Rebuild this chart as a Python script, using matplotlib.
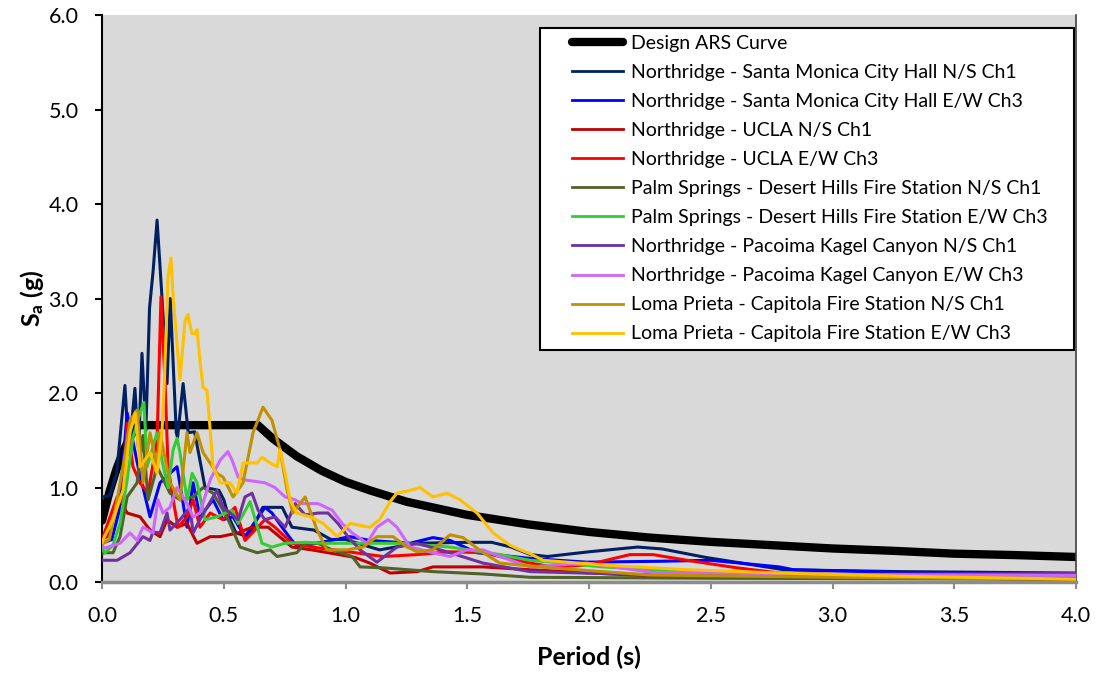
import matplotlib
matplotlib.use("Agg")
import matplotlib.pyplot as plt
from matplotlib.patches import Rectangle

plt.rcParams['font.family'] = ['Lato', 'DejaVu Sans']
plt.rcParams['mathtext.fontset'] = 'custom'
plt.rcParams['mathtext.rm'] = 'Lato'
plt.rcParams['mathtext.bf'] = 'Lato:bold'

# design ARS curve
design_T = [0, 0.03, 0.06, 0.09, 0.12, 0.15, 0.64, 0.7, 0.8, 0.9, 1.0, 1.1, 1.25, 1.5, 1.75,
            2.0, 2.25, 2.5, 2.75, 3.0, 3.25, 3.5, 3.75, 4.0]
design_sa = [0.65, 0.95, 1.2, 1.4, 1.56, 1.66, 1.66, 1.52, 1.33, 1.18, 1.06, 0.97, 0.85, 0.71, 0.61,
             0.53, 0.47, 0.425, 0.39, 0.355, 0.33, 0.30, 0.285, 0.265]

# Northridge - Santa Monica City Hall N/S Ch1
smns_T = [0, 0.03, 0.06, 0.094, 0.11, 0.135, 0.15, 0.164, 0.18, 0.195, 0.21, 0.226, 0.245, 0.267,
          0.28, 0.305, 0.31, 0.333, 0.354, 0.38, 0.423, 0.48, 0.50, 0.52, 0.55, 0.60, 0.66, 0.74,
          0.78, 0.87, 0.94, 1.0, 1.14, 1.29, 1.5, 1.6, 1.68, 1.76, 1.83, 2.0, 2.2, 2.3, 2.48, 2.8,
          3.28, 4.0]
smns_sa = [0.90, 0.91, 1.15, 2.08, 1.35, 2.05, 1.4, 2.42, 1.6, 2.9, 3.3, 3.83, 3.06, 2.1,
           3.0, 1.58, 1.53, 2.1, 1.58, 1.59, 1.0, 0.97, 0.87, 0.69, 0.52, 0.48, 0.79, 0.79,
           0.58, 0.55, 0.45, 0.45, 0.34, 0.41, 0.42, 0.42, 0.37, 0.29, 0.27, 0.32, 0.37, 0.35, 0.26, 0.13,
           0.11, 0.095]

# Northridge - Santa Monica City Hall E/W Ch3
smew_T = [0, 0.04, 0.07, 0.103, 0.148, 0.197, 0.238, 0.308, 0.349, 0.374, 0.402, 0.456, 0.497,
          0.538, 0.587, 0.669, 0.698, 0.739, 0.780, 0.805, 0.9, 1.018, 1.10, 1.265, 1.359, 1.429,
          1.54, 1.758, 1.99, 2.30, 2.50, 2.78, 2.84, 3.3, 4.0]
smew_sa = [0.41, 0.45, 0.75, 1.79, 1.22, 0.69, 1.05, 1.22, 0.58, 1.05, 0.69, 0.87, 0.66,
           0.69, 0.48, 0.79, 0.73, 0.58, 0.44, 0.37, 0.42, 0.48, 0.44, 0.41, 0.47, 0.44,
           0.31, 0.25, 0.21, 0.22, 0.23, 0.16, 0.13, 0.10, 0.074]

# Northridge - UCLA N/S Ch1
uclans_T = [0, 0.02, 0.074, 0.103, 0.156, 0.197, 0.238, 0.267, 0.308, 0.349, 0.39, 0.444, 0.485,
            0.559, 0.616, 0.682, 0.78, 0.862, 1.039, 1.1, 1.183, 1.294, 1.359, 1.565, 1.758, 2.2,
            2.6, 3.0, 4.0]
uclans_sa = [0.45, 0.48, 0.87, 0.73, 0.69, 0.55, 0.48, 0.66, 0.58, 0.62, 0.41, 0.48, 0.48,
             0.52, 0.58, 0.58, 0.37, 0.34, 0.26, 0.20, 0.095, 0.11, 0.16, 0.16, 0.13, 0.07,
             0.06, 0.05, 0.03]

# Northridge - UCLA E/W Ch3
uclaew_T = [0, 0.062, 0.086, 0.103, 0.127, 0.156, 0.189, 0.226, 0.242, 0.259, 0.271, 0.292, 0.312,
            0.349, 0.374, 0.402, 0.444, 0.497, 0.546, 0.587, 0.669, 0.71, 0.78, 0.862, 1.039, 1.154,
            1.294, 1.429, 1.565, 1.758, 1.852, 1.99, 2.168, 2.263, 2.402, 2.608, 2.784, 3.2, 4.0]
uclaew_sa = [0.45, 0.9, 0.83, 1.68, 1.22, 1.05, 0.94, 1.5, 3.02, 2.1, 1.22, 0.87, 0.58,
             0.69, 0.87, 0.58, 0.73, 0.66, 0.79, 0.44, 0.66, 0.58, 0.41, 0.37, 0.31, 0.27,
             0.29, 0.32, 0.31, 0.2, 0.16, 0.18, 0.29, 0.29, 0.23, 0.15, 0.095, 0.07, 0.05]

# Palm Springs - Desert Hills Fire Station N/S Ch1
psns_T = [0, 0.012, 0.045, 0.074, 0.103, 0.144, 0.168, 0.189, 0.226, 0.279, 0.32, 0.374, 0.415,
          0.456, 0.513, 0.567, 0.637, 0.69, 0.719, 0.80, 0.834, 0.887, 0.945, 1.027, 1.06, 1.154,
          1.359, 1.565, 1.758, 2.5, 4.0]
psns_sa = [0.30, 0.31, 0.31, 0.48, 0.9, 1.05, 1.55, 0.87, 1.22, 0.94, 0.87, 0.9, 1.0,
           0.94, 0.69, 0.37, 0.31, 0.34, 0.27, 0.31, 0.41, 0.41, 0.34, 0.27, 0.16, 0.15,
           0.11, 0.085, 0.05, 0.04, 0.03]

# Palm Springs - Desert Hills Fire Station E/W Ch3
psew_T = [0, 0.012, 0.045, 0.074, 0.103, 0.127, 0.156, 0.172, 0.185, 0.226, 0.246, 0.271, 0.292,
          0.308, 0.32, 0.349, 0.37, 0.39, 0.423, 0.472, 0.534, 0.559, 0.608, 0.657, 0.698, 0.752,
          0.834, 0.916, 1.039, 1.224, 1.429, 1.634, 1.758, 1.852, 2.057, 2.402, 3.0, 4.0]
psew_sa = [0.35, 0.31, 0.39, 0.62, 1.08, 1.53, 1.79, 1.9, 1.22, 1.58, 1.29, 1.0, 1.4,
           1.52, 1.37, 0.87, 1.15, 1.05, 0.66, 0.69, 0.76, 0.62, 0.85, 0.41, 0.37, 0.41,
           0.42, 0.41, 0.41, 0.41, 0.37, 0.29, 0.23, 0.21, 0.16, 0.11, 0.08, 0.07]

# Northridge - Pacoima Kagel Canyon N/S Ch1
pkns_T = [0, 0.062, 0.115, 0.168, 0.197, 0.209, 0.238, 0.267, 0.279, 0.32, 0.361, 0.374, 0.402,
          0.431, 0.472, 0.497, 0.559, 0.587, 0.616, 0.641, 0.669, 0.71, 0.752, 0.793, 0.834, 0.887,
          0.928, 0.969, 1.01, 1.06, 1.129, 1.211, 1.294, 1.429, 1.565, 1.758, 2.2, 3.0, 4.0]
pkns_sa = [0.23, 0.23, 0.31, 0.48, 0.44, 0.53, 0.52, 0.73, 0.55, 0.66, 0.79, 0.52, 0.66,
           0.79, 0.97, 0.79, 0.66, 0.90, 0.94, 0.76, 0.66, 0.69, 0.58, 0.83, 0.71, 0.73,
           0.73, 0.62, 0.48, 0.34, 0.21, 0.37, 0.41, 0.31, 0.2, 0.11, 0.08, 0.08, 0.09]

# Northridge - Pacoima Kagel Canyon E/W Ch3
pkew_T = [0, 0.012, 0.074, 0.115, 0.144, 0.168, 0.209, 0.23, 0.25, 0.279, 0.308, 0.349, 0.374,
          0.402, 0.444, 0.485, 0.517, 0.534, 0.559, 0.587, 0.669, 0.71, 0.752, 0.793, 0.821, 0.887,
          0.945, 0.986, 1.027, 1.088, 1.129, 1.175, 1.211, 1.265, 1.359, 1.429, 1.499, 1.565, 1.634,
          1.758, 1.99, 2.263, 3.0, 4.0]
pkew_sa = [0.38, 0.36, 0.41, 0.52, 0.44, 0.58, 0.52, 0.87, 0.73, 0.79, 1.0, 0.83, 0.69,
           0.73, 1.08, 1.29, 1.38, 1.29, 1.11, 1.08, 1.05, 1.0, 0.9, 0.87, 0.83, 0.83,
           0.76, 0.62, 0.52, 0.41, 0.58, 0.66, 0.58, 0.37, 0.31, 0.27, 0.34, 0.34, 0.27,
           0.16, 0.2, 0.1, 0.08, 0.07]

# Loma Prieta - Capitola Fire Station N/S Ch1
lpns_T = [0, 0.03, 0.062, 0.086, 0.115, 0.144, 0.168, 0.197, 0.226, 0.238, 0.279, 0.32, 0.349,
          0.361, 0.39, 0.415, 0.472, 0.497, 0.538, 0.579, 0.62, 0.661, 0.698, 0.731, 0.76, 0.784,
          0.834, 0.883, 0.924, 1.006, 1.072, 1.129, 1.195, 1.253, 1.294, 1.359, 1.429, 1.483, 1.565,
          1.634, 1.84, 2.25, 3.0, 4.0]
lpns_sa = [0.40, 0.45, 0.87, 1.22, 1.71, 1.82, 1.05, 1.58, 1.22, 1.58, 1.05, 0.87, 1.58,
           1.37, 1.58, 1.37, 1.15, 1.11, 0.9, 1.05, 1.58, 1.85, 1.71, 1.4, 0.97, 0.73,
           0.9, 0.55, 0.34, 0.34, 0.37, 0.48, 0.48, 0.37, 0.32, 0.34, 0.50, 0.47, 0.31,
           0.2, 0.15, 0.074, 0.05, 0.03]

# Loma Prieta - Capitola Fire Station E/W Ch3
lpew_T = [0, 0.01, 0.045, 0.086, 0.115, 0.136, 0.156, 0.197, 0.226, 0.246, 0.255, 0.271, 0.283,
          0.292, 0.300, 0.320, 0.341, 0.353, 0.369, 0.382, 0.39, 0.402, 0.415, 0.431, 0.456, 0.485,
          0.526, 0.554, 0.579, 0.637, 0.657, 0.69, 0.719, 0.731, 0.752, 0.772, 0.80, 0.854, 0.908,
          0.966, 1.018, 1.10, 1.14, 1.183, 1.211, 1.265, 1.306, 1.359, 1.417, 1.47, 1.54, 1.606,
          1.675, 1.717, 1.758, 1.811, 2.057, 2.402, 2.784, 3.3, 4.0]
lpew_sa = [0.42, 0.48, 0.66, 0.97, 1.58, 1.79, 1.22, 1.37, 1.15, 1.58, 2.06, 3.23, 3.43,
           3.02, 2.77, 2.14, 2.77, 2.83, 2.63, 2.63, 2.67, 2.35, 2.06, 2.03, 1.22, 1.05,
           1.05, 0.94, 1.26, 1.26, 1.32, 1.26, 1.22, 1.4, 1.15, 0.87, 0.73, 0.69, 0.62,
           0.48, 0.62, 0.58, 0.66, 0.85, 0.94, 0.97, 1.0, 0.9, 0.94, 0.87, 0.73, 0.52,
           0.39, 0.34, 0.30, 0.23, 0.18, 0.13, 0.095, 0.06, 0.03]

labels = ['Northridge - Santa Monica City Hall N/S Ch1',
          'Northridge - Santa Monica City Hall E/W Ch3',
          'Northridge - UCLA N/S Ch1',
          'Northridge - UCLA E/W Ch3',
          'Palm Springs - Desert Hills Fire Station N/S Ch1',
          'Palm Springs - Desert Hills Fire Station E/W Ch3',
          'Northridge - Pacoima Kagel Canyon N/S Ch1',
          'Northridge - Pacoima Kagel Canyon E/W Ch3',
          'Loma Prieta - Capitola Fire Station N/S Ch1',
          'Loma Prieta - Capitola Fire Station E/W Ch3']
colors = ['#002060', '#0000FF', '#C00000', '#FF0000', '#4F6228',
          '#33CC33', '#7030A0', '#CC66FF', '#C09000', '#FFC000']
series = [(smns_T, smns_sa), (smew_T, smew_sa), (uclans_T, uclans_sa), (uclaew_T, uclaew_sa),
          (psns_T, psns_sa), (psew_T, psew_sa), (pkns_T, pkns_sa), (pkew_T, pkew_sa),
          (lpns_T, lpns_sa), (lpew_T, lpew_sa)]

fig = plt.figure(figsize=(11.02, 6.77), dpi=100)
ax = fig.add_axes([0.0926, 0.1403, 0.8838, 0.8375])
ax.set_facecolor('#D9D9D9')

ax.plot(design_T, design_sa, color='black', lw=6, solid_capstyle='round',
        solid_joinstyle='round', label='Design ARS Curve', zorder=2)
for (t, sa), c, lab in zip(series, colors, labels):
    ax.plot(t, sa, color=c, lw=2.2, label=lab, zorder=3, solid_joinstyle='round')

ax.set_xlim(0, 4.0)
ax.set_ylim(0, 6.0)
ax.set_xticks([0, 0.5, 1.0, 1.5, 2.0, 2.5, 3.0, 3.5, 4.0])
ax.set_yticks([0, 1, 2, 3, 4, 5, 6])
ax.xaxis.set_major_formatter(matplotlib.ticker.FormatStrFormatter('%.1f'))
ax.yaxis.set_major_formatter(matplotlib.ticker.FormatStrFormatter('%.1f'))
ax.tick_params(axis='y', direction='out', length=5, width=1.5, color='black',
               labelsize=15.5, pad=12)
ax.tick_params(axis='x', direction='out', length=5, width=1.5, color='#8C8C8C',
               labelsize=15.5, pad=12)

ax.spines['top'].set_visible(False)
ax.spines['left'].set_color('black')
ax.spines['left'].set_linewidth(1.5)
ax.spines['bottom'].set_color('#8C8C8C')
ax.spines['bottom'].set_linewidth(2.5)
ax.spines['right'].set_color('#404040')
ax.spines['right'].set_linewidth(1.2)

ax.set_xlabel('Period (s)', fontsize=18, fontweight='bold', labelpad=14)
ax.set_ylabel(r'$\mathbf{S_a}$ (g)', fontsize=18, fontweight='bold', labelpad=2)

# legend frame drawn separately so the handles can sit inset like the original
box = Rectangle((0.4497, 0.409), 0.5483, 0.568, transform=ax.transAxes,
                facecolor='white', edgecolor='black', lw=1.5, zorder=4)
ax.add_patch(box)
leg = ax.legend(loc='upper left', bbox_to_anchor=(0.4826, 0.965), frameon=False,
                fontsize=14, handlelength=2.62, handletextpad=0.41,
                labelspacing=0.62, borderaxespad=0, borderpad=0)
leg.set_zorder(5)
for h in leg.get_lines()[1:]:
    h.set_linewidth(2.0)

fig.savefig('out.png', dpi=100)
